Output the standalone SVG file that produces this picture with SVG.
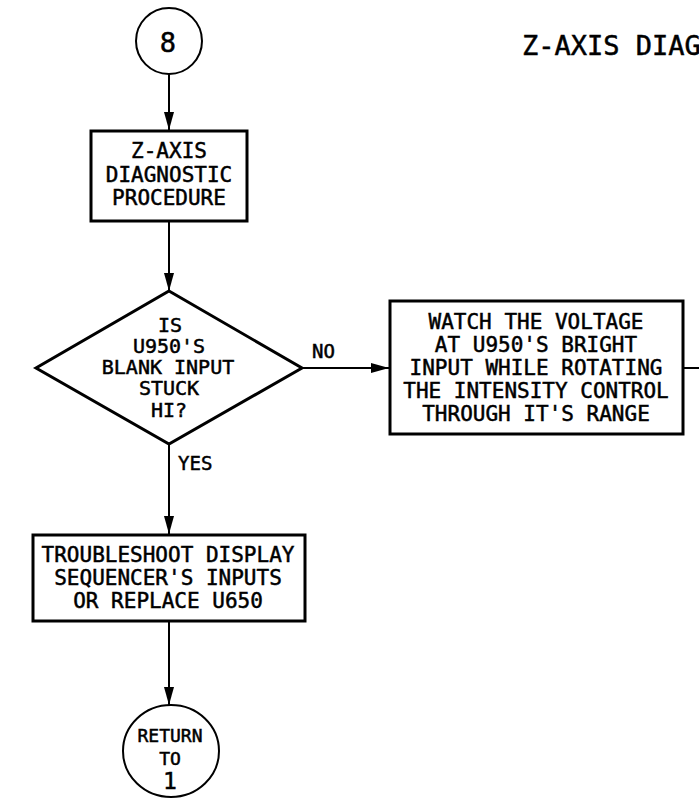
<svg xmlns="http://www.w3.org/2000/svg" width="699" height="799" viewBox="0 0 699 799">
<style>
.t{font-family:"DejaVu Sans Mono","Liberation Mono",monospace;fill:#000;stroke:#000;stroke-width:0.5;text-anchor:middle}
.box{fill:#fff;stroke:#000;stroke-width:3}
.circ{fill:#fff;stroke:#000;stroke-width:2}
.con{stroke:#000;stroke-width:2;fill:none}
</style>
<defs>
<marker id="ah" markerWidth="18" markerHeight="10" refX="18" refY="5" orient="auto" markerUnits="userSpaceOnUse">
<path d="M0,0 L18,5 L0,10 Z" fill="#000"/>
</marker>
</defs>
<rect width="699" height="799" fill="#fff"/>
<text class="t" x="522" y="55" font-size="27" style="text-anchor:start">Z-AXIS DIAG</text>
<g id="connectors">
<line class="con" x1="169" y1="74" x2="169" y2="130" marker-end="url(#ah)"/>
<line class="con" x1="169" y1="222" x2="169" y2="291" marker-end="url(#ah)"/>
<line class="con" x1="302" y1="368" x2="389" y2="368" marker-end="url(#ah)"/>
<line class="con" x1="169" y1="444" x2="169" y2="534" marker-end="url(#ah)"/>
<line class="con" x1="169" y1="622" x2="169" y2="705" marker-end="url(#ah)"/>
<line class="con" x1="684" y1="368" x2="699" y2="368"/>
<text class="t" x="312" y="358" font-size="19" style="text-anchor:start">NO</text>
<text class="t" x="178" y="470" font-size="19" style="text-anchor:start">YES</text>
</g>
<g id="start">
<circle class="circ" cx="169" cy="41" r="33"/>
<text class="t" x="168" y="52" font-size="27">8</text>
</g>
<g id="procedure">
<rect class="box" x="91" y="131" width="156" height="90"/>
<text class="t" font-size="21"><tspan x="169" y="158">Z-AXIS</tspan><tspan x="169" y="182">DIAGNOSTIC</tspan><tspan x="169" y="205">PROCEDURE</tspan></text>
</g>
<g id="decision">
<polygon class="box" points="169,291 302,368 169,444 36,368"/>
<text class="t" font-size="20"><tspan x="170" y="332">IS</tspan><tspan x="169" y="353">U950'S</tspan><tspan x="168" y="374">BLANK INPUT</tspan><tspan x="169" y="395">STUCK</tspan><tspan x="169" y="417">HI?</tspan></text>
</g>
<g id="watch">
<rect class="box" x="390" y="301" width="293" height="133"/>
<text class="t" font-size="21"><tspan x="536" y="329">WATCH THE VOLTAGE</tspan><tspan x="536" y="352">AT U950'S BRIGHT</tspan><tspan x="536" y="375">INPUT WHILE ROTATING</tspan><tspan x="536" y="398">THE INTENSITY CONTROL</tspan><tspan x="536" y="421">THROUGH IT'S RANGE</tspan></text>
</g>
<g id="troubleshoot">
<rect class="box" x="33" y="535" width="272" height="86"/>
<text class="t" font-size="21"><tspan x="168" y="562">TROUBLESHOOT DISPLAY</tspan><tspan x="168" y="585">SEQUENCER'S INPUTS</tspan><tspan x="168" y="608">OR REPLACE U650</tspan></text>
</g>
<g id="return">
<ellipse class="circ" cx="171" cy="751" rx="48" ry="46"/>
<text class="t" font-size="18"><tspan x="170" y="742">RETURN</tspan><tspan x="170" y="765">TO</tspan></text>
<text class="t" x="170" y="789" font-size="23">1</text>
</g>
</svg>
